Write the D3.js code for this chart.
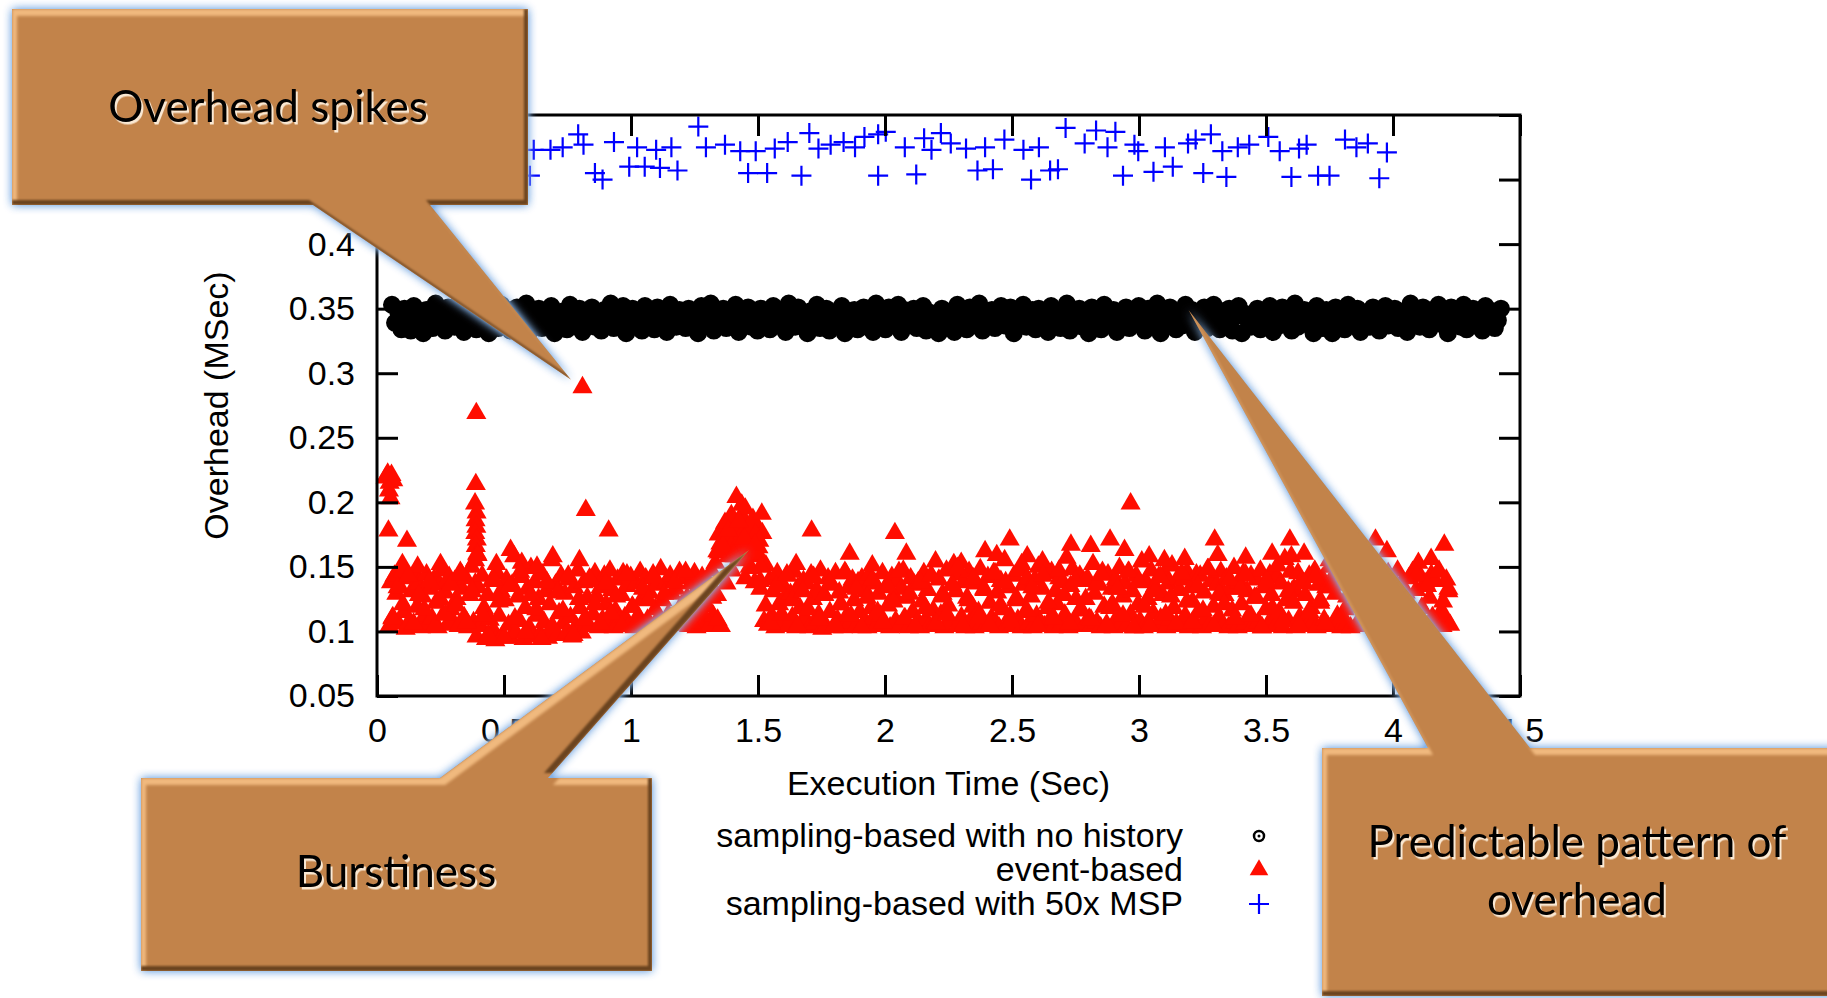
<!DOCTYPE html>
<html><head><meta charset="utf-8">
<script src="https://cdn.jsdelivr.net/npm/d3@7"></script>
<style>html,body{margin:0;padding:0;background:#fff;}svg{display:block;}</style>
</head><body>
<svg id="chart" width="1827" height="998"></svg>
<script>
// ---------------- data ----------------
const seriesNames = ["sampling-based with no history", "event-based", "sampling-based with 50x MSP"];
const xLabel = "Execution Time (Sec)";
const yLabel = "Overhead (MSec)";
const xTicks = [0, 0.5, 1, 1.5, 2, 2.5, 3, 3.5, 4, 4.5];
const xTickLabels = ["0", "0.5", "1", "1.5", "2", "2.5", "3", "3.5", "4", "4.5"];
const yTicks = [0.05, 0.1, 0.15, 0.2, 0.25, 0.3, 0.35, 0.4, 0.45, 0.5];
// the 0.45 and 0.5 labels sit under the "Overhead spikes" callout in the original
const yTickLabels = ["0.05", "0.1", "0.15", "0.2", "0.25", "0.3", "0.35", "0.4", "", ""];
const calloutTexts = [["Overhead spikes"], ["Burstiness"], ["Predictable pattern of", "overhead"]];
// callout tips, in data units (time s, overhead ms)
const calloutTipX = [0.764, 1.465, 3.195];
const calloutTipY = [0.295, 0.163, 0.349];

// sampling-based with no history: sample time (ms), overhead (microseconds)
const noHistoryTimeMs = [
59,71,84,96,108,120,133,145,157,170,182,194,207,219,231,243,
256,268,280,293,305,317,330,342,354,366,379,391,403,416,428,440,453,465,477,489,
502,514,526,539,551,563,576,588,600,612,625,637,649,662,674,686,699,711,723,735,
748,760,772,785,797,809,822,834,846,858,871,883,895,908,920,932,945,957,969,981,
994,1006,1018,1031,1043,1055,1068,1080,1092,1104,1117,1129,1141,1154,1166,1178,1191,1203,1215,1227,
1240,1252,1264,1277,1289,1301,1314,1326,1338,1350,1363,1375,1387,1400,1412,1424,1437,1449,1461,1473,
1486,1498,1510,1523,1535,1547,1560,1572,1584,1596,1609,1621,1633,1646,1658,1670,1683,1695,1707,1719,
1732,1744,1756,1769,1781,1793,1806,1818,1830,1842,1855,1867,1879,1892,1904,1916,1929,1941,1953,1965,
1978,1990,2002,2015,2027,2039,2052,2064,2076,2088,2101,2113,2125,2138,2150,2162,2175,2187,2199,2211,
2224,2236,2248,2261,2273,2285,2298,2310,2322,2334,2347,2359,2371,2384,2396,2408,2421,2433,2445,2457,
2470,2482,2494,2507,2519,2531,2544,2556,2568,2580,2593,2605,2617,2630,2642,2654,2667,2679,2691,2703,
2716,2728,2740,2753,2765,2777,2790,2802,2814,2826,2839,2851,2863,2876,2888,2900,2913,2925,2937,2949,
2962,2974,2986,2999,3011,3023,3036,3048,3060,3072,3085,3097,3109,3122,3134,3146,3159,3171,3183,3195,
3208,3220,3232,3245,3257,3269,3282,3294,3306,3318,3331,3343,3355,3368,3380,3392,3405,3417,3429,3441,
3454,3466,3478,3491,3503,3515,3528,3540,3552,3564,3577,3589,3601,3614,3626,3638,3651,3663,3675,3687,
3700,3712,3724,3737,3749,3761,3774,3786,3798,3810,3823,3835,3847,3860,3872,3884,3897,3909,3921,3933,
3946,3958,3970,3983,3995,4007,4020,4032,4044,4056,4069,4081,4093,4106,4118,4130,4143,4155,4167,4179,
4192,4204,4216,4229,4241,4253,4266,4278,4290,4302,4315,4327,4339,4352,4364,4376,4389,4401,4413,4425];
const noHistoryOverheadUs = [
353,339,347,334,350,341,333,352,337,345,331,349,342,335,354,338,
346,333,351,340,336,353,343,332,348,337,350,334,344,339,352,331,347,341,335,353,
338,349,333,345,351,336,342,354,332,347,340,350,335,343,337,352,331,346,339,348,
334,353,341,337,350,332,345,339,351,336,344,333,349,342,354,335,347,338,352,331,
343,350,336,346,333,352,340,348,334,351,338,345,332,353,341,336,349,344,335,350,
339,347,331,352,342,337,354,333,346,340,350,335,348,338,353,332,344,341,351,336,
345,333,350,339,347,334,352,341,337,349,332,354,343,336,351,338,346,331,348,340,
353,335,344,350,333,341,347,337,352,331,345,339,349,334,342,351,336,348,332,354,
340,346,334,351,338,343,353,332,349,337,345,350,335,341,352,333,347,339,344,331,
350,342,336,348,332,353,339,345,334,351,341,337,354,333,346,340,349,335,343,352,
337,344,351,331,347,340,353,336,342,349,334,350,338,345,332,352,341,348,335,339,
354,333,346,341,350,336,343,331,351,339,347,334,353,342,337,349,332,345,340,351,
335,348,338,352,344,333,350,341,336,354,331,346,339,351,343,334,347,337,353,340,
349,332,345,338,351,335,342,353,340,334,348,337,350,333,344,352,331,346,341,336,
343,350,334,347,339,352,332,345,337,351,341,348,333,354,336,342,349,338,346,331,
352,340,335,349,343,331,351,338,346,334,353,341,337,350,332,347,344,336,351,339,
333,346,352,337,344,350,335,341,348,332,354,339,345,336,351,342,334,349,340,353,
338,345,331,351,342,347,336,353,334,340,350,337,346,333,352,343,348,335,341,350];

// event-based: event time (ms), overhead (microseconds)
const eventTimeMs = [
48,55,62,69,76,84,91,99,106,113, 121,128,136,143,150,158,165,173,180,187,
195,202,210,217,224,232,239,247,254,261, 269,276,284,291,298,306,313,321,328,335,
343,350,358,365,372,380,387,
392,399,407,414,421,429,436,444,451,458, 466,473,481,488,495,503,510,518,525,532,
540,547,555,562,569,577,584,592,599,606, 614,621,629,636,643,651,658,666,673,680,
688,695,703,710,717,725,732,740,747,754, 762,769,777,784,791,799,806,814,821,828,
836,843,851,858,865,873,880,888,895,902, 910,917,925,932,939,947,954,962,969,976,
984,991,999,1006,1013,1021,1028,1036,1043,1050, 1058,1065,1073,1080,1087,1095,1102,1110,1117,1124,
1132,1139,1147,1154,1161,1169,1176,1184,1191,1198, 1206,1213,1221,1228,1235,1243,1250,1258,1265,1272,
1280,1287,1295,1302,1309,1317,1324,1332,1339,1346,
1354,1361,1369,1376,1383,1391,1398,1406,1413,1420, 1428,1435,1443,1450,1457,1465,1472,1480,1487,1494,
1502,1509,1517,1524,1531,
1539,1546,1554,1561,1568,1576,1583,1591,1598,1605, 1613,1620,1628,1635,1642,1650,1657,1665,1672,1679,
1687,1694,1702,1709,1716,1724,1731,1739,1746,1753, 1761,1768,1776,1783,1790,1798,1805,1813,1820,1827,
1835,1842,1850,1857,1864,1872,1879,1887,1894,1901, 1909,1916,1924,1931,1938,1946,1953,1961,1968,1975,
1983,1990,1998,2005,2012,2020,2027,2035,2042,2049, 2057,2064,2072,2079,2086,2094,2101,2109,2116,2123,
2131,2138,2146,2153,2160,2168,2175,2183,2190,2197, 2205,2212,2220,2227,2234,2242,2249,2257,2264,2271,
2279,2286,2294,2301,2308,2316,2323,2331,2338,2345, 2353,2360,2368,2375,2382,2390,2397,2405,2412,2419,
2427,2434,2442,2449,2456,2464,2471,2479,2486,2493, 2501,2508,2516,2523,2530,2538,2545,2553,2560,2567,
2575,2582,2590,2597,2604,2612,2619,2627,2634,2641, 2649,2656,2664,2671,2678,2686,2693,2701,2708,2715,
2723,2730,2738,2745,2752,2760,2767,2775,2782,2789, 2797,2804,2812,2819,2826,2834,2841,2849,2856,2863,
2871,2878,2886,2893,2900,2908,2915,2923,2930,2937, 2945,2952,2960,2967,2974,2982,2989,2997,3004,3011,
3019,3026,3034,3041,3048,3056,3063,3071,3078,3085, 3093,3100,3108,3115,3122,3130,3137,3145,3152,3159,
3167,3174,3182,3189,3196,3204,3211,3219,3226,3233, 3241,3248,3256,3263,3270,3278,3285,3293,3300,3307,
3315,3322,3330,3337,3344,3352,3359,3367,3374,3381, 3389,3396,3404,3411,3418,3426,3433,3441,3448,3455,
3463,3470,3478,3485,3492,3500,3507,3515,3522,3529, 3537,3544,3552,3559,3566,3574,3581,3589,3596,3603,
3611,3618,3626,3633,3640,3648,3655,3663,3670,3677, 3685,3692,3700,3707,3714,3722,3729,3737,3744,3751,
3759,3766,3774,3781,3788,3796,3803,3811,3818,3825, 3833,3840,3848,3855,3862,3870,3877,3885,3892,3899,
3907,3914,3922,3929,3936,3944,3951,3959,3966,3973, 3981,3988,3996,4003,4010,4018,4025,4033,4040,4047,
4055,4062,4070,4077,4084,4092,4099,4107,4114,4121, 4129,4136,4144,4151,4158,4166,4173,4181,4188,4195,
4203,4210,4218,4225,
34,42,50,57,64,47,53,45,118,100,160,250,
389,386,392,388,391,387,393,389,394,386,391,
809,822,912,526,570,692,797,630,470,
1340,1345,1352,1370,1378,1395,1400,1408,1415,1420,1428,1436,1440,1447,1450,1460,1468,1470,1480,1490,1500,1505,1515,1510,
1650,1711,1861,1950,2039,2084,2199,2300,2394,2440,2491,2560,2620,2732,2810,2886,2943,2967,3040,3100,3180,3298,3310,3420,3524,3594,3600,3650,3750,3860,3931,3976,4100,4150,4202,
60,81,102,123,144,165,186,207,228,249, 270,291,312,333,354,375,396,417,438,459,
480,501,522,543,564,585,606,627,648,669, 690,711,732,753,774,795,816,837,858,879,
900,921,942,963,984,1005,1026,1047,1068,1089, 1110,1131,1152,1173,1194,1215,1236,1257,1278,1299,
1320,1341,1362,1383,1404,1425,1446,1467,1488,1509, 1530,1551,1572,1593,1614,1635,1656,1677,1698,1719,
1740,1761,1782,1803,1824,1845,1866,1887,1908,1929, 1950,1971,1992,2013,2034,2055,2076,2097,2118,2139,
2160,2181,2202,2223,2244,2265,2286,2307,2328,2349, 2370,2391,2412,2433,2454,2475,2496,2517,2538,2559,
2580,2601,2622,2643,2664,2685,2706,2727,2748,2769, 2790,2811,2832,2853,2874,2895,2916,2937,2958,2979,
3000,3021,3042,3063,3084,3105,3126,3147,3168,3189, 3210,3231,3252,3273,3294,3315,3336,3357,3378,3399,
3420,3441,3462,3483,3504,3525,3546,3567,3588,3609, 3630,3651,3672,3693,3714,3735,3756,3777,3798,3819,
3840,3861,3882,3903,3924,3945,3966,3987,4008,4029, 4050,4071,4092,4113,4134,4155,4176,4197,4218];
const eventOverheadUs = [
104,138,111,143,129,106,134,146,115,102, 141,108,131,104,145,119,137,103,127,112,
144,106,133,110,140,122,103,136,147,113, 130,105,142,117,108,139,125,104,146,133,
111,141,103,128,150,107,137,
96,134,104,143,118,94,128,109,139,101, 93,145,112,131,97,124,140,105,95,136,
158,99,127,108,142,94,118,133,103,149, 96,138,112,125,98,144,107,131,95,121,
155,101,136,97,114,143,106,129,99,140, 111,96,134,104,147,118,99,138,108,126,
104,139,113,145,127,103,134,109,143,121, 106,147,132,103,116,140,108,128,145,111,
135,104,142,119,103,137,112,146,125,105, 141,109,130,103,144,117,136,106,148,124,
103,138,113,143,129,105,133,110,146,120, 107,141,126,104,137,115,145,103,131,110,
142,106,135,119,104,147,112,153,128,161,
104,168,176,137,158,183,147,172,163,179, 155,186,169,141,177,160,149,171,138,182,
165,133,176,108,151,
105,140,112,131,103,145,121,108,136,126, 143,104,129,111,146,103,134,118,107,139,
110,137,103,144,125,106,132,113,147,102, 128,104,141,115,136,103,145,109,130,121,
103,146,112,134,107,140,124,104,138,115, 141,106,131,103,144,118,110,137,105,129,
112,145,104,135,120,103,142,128,108,139, 104,133,147,110,126,103,141,115,136,106,
138,103,123,145,109,132,104,143,116,107, 105,140,113,129,103,147,120,108,136,152,
131,104,144,111,138,103,126,146,109,119, 103,137,115,148,106,133,104,142,122,110,
145,107,130,103,139,117,155,105,134,112, 104,143,124,109,147,103,136,115,141,106,
127,103,140,112,150,106,133,104,145,118, 109,146,103,131,121,141,105,138,113,157,
103,135,148,108,125,104,143,116,139,106, 141,110,104,152,129,107,137,103,146,119,
105,144,118,133,103,140,111,149,106,127, 137,104,146,113,131,103,143,121,108,154,
103,139,125,106,147,114,135,104,142,110, 128,145,103,137,109,151,118,104,141,132,
106,140,112,146,103,134,123,107,144,115, 143,103,130,110,148,105,139,119,104,136,
111,146,104,128,141,103,133,116,149,107, 103,138,121,145,106,131,112,143,104,126,
140,107,147,103,134,117,105,144,128,110, 104,142,115,137,103,156,124,108,146,131,
133,103,145,111,139,106,128,104,143,118, 107,147,103,136,122,141,109,134,104,150,
139,104,129,112,145,103,136,117,106,142, 103,144,119,133,107,148,104,127,139,112,
131,105,146,103,138,114,142,108,125,104, 145,110,103,134,121,147,106,137,103,129,
104,141,113,146,108,132,103,143,118,136, 137,103,126,144,110,139,105,147,115,104,
112,140,131,105,
219,222,215,221,217,209,203,178,170,152,150,152,
214,199,192,186,181,176,171,166,160,155,269,
289,194,178,163,153,158,155,150,152,
162,175,168,184,172,190,168,158,204,180,170,198,176,186,195,165,180,158,187,175,160,170,191,150,
152,178,160,151,176,160,154,153,162,159,171,158,154,167,166,171,163,199,158,155,156,171,159,157,160,171,158,160,155,157,171,162,153,156,167,
110,134,121,143,106,128,117,139,104,125, 113,136,120,144,107,131,159,112,97,140,
123,95,135,110,146,99,128,117,94,138, 104,130,116,143,97,125,109,141,121,106,
137,114,127,104,144,119,108,133,124,142, 111,129,105,138,118,146,107,132,115,140,
126,109,166,178,159,185,172,150,167,139, 120,106,135,113,144,124,104,131,117,142,
109,128,137,105,121,145,112,133,103,126, 140,115,107,134,123,146,110,129,104,138,
118,143,106,127,113,136,149,104,124,141, 111,132,105,145,120,138,108,126,152,116,
134,104,143,122,110,147,128,106,139,117, 125,109,136,144,105,121,133,112,146,103,
138,119,104,131,142,113,127,106,145,123, 107,135,116,148,104,129,121,140,110,133,
144,112,126,103,139,118,151,108,131,122, 105,137,115,142,124,106,134,147,111,127,
120,145,108,132,104,141,116,128,138,109, 130,106,143,118,135,111,146,123,133];

// sampling-based with 50x MSP: time (ms), overhead (microseconds)
const mspTimeMs = [
50,90,140,190,230,280,330,370,410,460,
500,550,602,617,683,731,792,813,858,888,
933,993,1024,1054,1099,1114,1159,1183,1265,1295,
1370,1430,1461,1491,1536,1566,1617,1671,1702,1738,
1786,1837,1882,1919,1973,1973,2003,2078,2123,2154,
2183,2220,2259,2319,2364,2394,2425,2470,2545,2575,
2606,2650,2681,2711,2786,2831,2876,2907,2937,2982,
2997,3057,3102,3133,3193,3223,3253,3283,3328,3344,
3389,3434,3509,3554,3600,3630,3660,3705,3750,3811,
3856,3901,3946,3976];
const mspOverheadUs = [
476,483,455,479,472,487,474,453,478,481,
470,476,453,473,473,475,485,477,455,450,
479,460,475,460,473,459,475,457,491,475,
477,472,455,472,455,474,479,453,486,474,
477,479,475,483,485,453,487,475,454,482,
473,486,478,474,457,475,458,481,473,450,
475,457,458,490,478,488,475,487,453,477,
472,456,475,460,478,481,455,485,472,452,
475,477,483,472,452,474,477,453,453,481,
475,478,451,471];

// ---------------- layout ----------------
const W = 1827, H = 998;
const plot = {left: 377, right: 1520, top: 115, bottom: 696};
const axisFont = "'Liberation Sans', Arial, Helvetica, sans-serif";
const noteFont = "Lato, 'Open Sans', sans-serif";

const x = d3.scaleLinear().domain([0, 4.5]).range([plot.left, plot.right]);
const y = d3.scaleLinear().domain([0.05, 0.5]).range([plot.bottom, plot.top]);

const svg = d3.select("#chart");
svg.append("rect").attr("width", W).attr("height", H).attr("fill", "#fff");

const defs = svg.append("defs");
defs.html(`
<filter id="calloutFx" filterUnits="userSpaceOnUse" x="-80" y="-80" width="2000" height="1160" color-interpolation-filters="sRGB">
  <feGaussianBlur in="SourceAlpha" stdDeviation="5" result="gb"/>
  <feFlood flood-color="#86B2E6" result="gc"/>
  <feComposite in="gc" in2="gb" operator="in" result="glow0"/>
  <feComponentTransfer in="glow0" result="glow"><feFuncA type="linear" slope="1.5"/></feComponentTransfer>
  <feOffset in="SourceAlpha" dx="5" dy="7" result="o1"/>
  <feComposite in="SourceAlpha" in2="o1" operator="out" result="hm0"/>
  <feGaussianBlur in="hm0" stdDeviation="1.6" result="hm1"/>
  <feComposite in="hm1" in2="SourceAlpha" operator="in" result="hm"/>
  <feFlood flood-color="#F0B97E" result="hc"/>
  <feComposite in="hc" in2="hm" operator="in" result="hi"/>
  <feOffset in="SourceAlpha" dx="-4" dy="-5" result="o2"/>
  <feComposite in="SourceAlpha" in2="o2" operator="out" result="sm0"/>
  <feGaussianBlur in="sm0" stdDeviation="1.2" result="sm1"/>
  <feComposite in="sm1" in2="SourceAlpha" operator="in" result="sm"/>
  <feFlood flood-color="#6A431F" result="sc"/>
  <feComposite in="sc" in2="sm" operator="in" result="sh"/>
  <feMerge><feMergeNode in="glow"/><feMergeNode in="SourceGraphic"/><feMergeNode in="hi"/><feMergeNode in="sh"/></feMerge>
</filter>
<filter id="textShadow" x="-10%" y="-30%" width="120%" height="160%" color-interpolation-filters="sRGB">
  <feDropShadow dx="2" dy="2.5" stdDeviation="0.7" flood-color="#FFF3E2" flood-opacity="0.9"/>
</filter>`);

// ---------------- series ----------------
const noHist = noHistoryTimeMs.map((t, i) => ({t: t / 1000, v: noHistoryOverheadUs[i] / 1000}));
const events = eventTimeMs.map((t, i) => ({t: t / 1000, v: eventOverheadUs[i] / 1000}));
const msp = mspTimeMs.map((t, i) => ({t: t / 1000, v: mspOverheadUs[i] / 1000}));

const gData = svg.append("g");
const gNH = gData.append("g");
// densely overlapping ring-with-dot markers merge into a solid band
gNH.selectAll("circle.ring").data(noHist).join("circle").attr("class", "ring")
  .attr("cx", d => x(d.t)).attr("cy", d => y(d.v)).attr("r", 5)
  .attr("fill", "none").attr("stroke", "#000").attr("stroke-width", 8);
gNH.selectAll("circle.dot").data(noHist).join("circle").attr("class", "dot")
  .attr("cx", d => x(d.t)).attr("cy", d => y(d.v)).attr("r", 2).attr("fill", "#000");

const tri = d3.symbol(d3.symbolTriangle, 175);
gData.append("g").selectAll("path").data(events).join("path")
  .attr("d", tri).attr("transform", d => `translate(${x(d.t)},${y(d.v)})`).attr("fill", "#ff0d00");

const plusType = {draw(ctx, size) { const r = Math.sqrt(size) / 2; ctx.moveTo(-r, 0); ctx.lineTo(r, 0); ctx.moveTo(0, -r); ctx.lineTo(0, r); }};
const plus = d3.symbol(plusType, 400);
gData.append("g").selectAll("path").data(msp).join("path")
  .attr("d", plus).attr("transform", d => `translate(${x(d.t)},${y(d.v)})`)
  .attr("fill", "none").attr("stroke", "#0000ff").attr("stroke-width", 2.2);

// ---------------- axes & frame ----------------
function styleAxis(g, labels) {
  g.select(".domain").remove();
  g.selectAll(".tick line").attr("stroke", "#000").attr("stroke-width", 3);
  g.selectAll(".tick text").attr("font-family", axisFont).attr("font-size", 34).attr("fill", "#000");
  if (!labels) g.selectAll(".tick text").remove();
  else g.selectAll(".tick text").filter(function() { return this.textContent === ""; }).remove();
}
svg.append("g").attr("transform", `translate(0,${plot.bottom})`)
  .call(d3.axisBottom(x).tickValues(xTicks).tickSizeInner(-21).tickSizeOuter(0).tickPadding(22).tickFormat((d, i) => xTickLabels[i]))
  .call(g => styleAxis(g, true));
svg.append("g").attr("transform", `translate(0,${plot.top})`)
  .call(d3.axisTop(x).tickValues(xTicks).tickSizeInner(-21).tickSizeOuter(0))
  .call(g => styleAxis(g, false));
svg.append("g").attr("transform", `translate(${plot.left},0)`)
  .call(d3.axisLeft(y).tickValues(yTicks).tickSizeInner(-21).tickSizeOuter(0).tickPadding(22).tickFormat((d, i) => yTickLabels[i]))
  .call(g => styleAxis(g, true));
svg.append("g").attr("transform", `translate(${plot.right},0)`)
  .call(d3.axisRight(y).tickValues(yTicks).tickSizeInner(-21).tickSizeOuter(0))
  .call(g => styleAxis(g, false));
svg.append("rect").attr("x", plot.left).attr("y", plot.top)
  .attr("width", plot.right - plot.left).attr("height", plot.bottom - plot.top)
  .attr("fill", "none").attr("stroke", "#000").attr("stroke-width", 3);

svg.append("text").attr("x", (plot.left + plot.right) / 2).attr("y", 795)
  .attr("text-anchor", "middle").attr("font-family", axisFont).attr("font-size", 34).text(xLabel);
svg.append("text").attr("transform", `translate(228,${(plot.top + plot.bottom) / 2}) rotate(-90)`)
  .attr("text-anchor", "middle").attr("font-family", axisFont).attr("font-size", 34).text(yLabel);

// ---------------- legend ----------------
const legendRowsY = [836, 870, 904];
const lg = svg.append("g");
const lt = lg.append("text").attr("x", 1183).attr("y", legendRowsY[0] + 11).attr("text-anchor", "end")
  .attr("font-family", axisFont).attr("font-size", 34);
seriesNames.forEach((name, i) => {
  lt.append("tspan").attr("x", 1183).attr("y", legendRowsY[i] + 11).text(name);
});
lg.append("circle").attr("cx", 1259).attr("cy", legendRowsY[0]).attr("r", 5).attr("fill", "none").attr("stroke", "#000").attr("stroke-width", 2.5);
lg.append("circle").attr("cx", 1259).attr("cy", legendRowsY[0]).attr("r", 1.5).attr("fill", "#000");
lg.append("path").attr("d", d3.symbol(d3.symbolTriangle, 150)).attr("transform", `translate(1259,${legendRowsY[1]})`).attr("fill", "#ff0d00");
lg.append("path").attr("d", plus).attr("transform", `translate(1259,${legendRowsY[2]})`).attr("fill", "none").attr("stroke", "#0000ff").attr("stroke-width", 2.2);

// ---------------- callouts ----------------
const callouts = [
  {box: [12, 9, 528, 205], side: "bottom", base: [313, 430], text: [268, 122]},
  {box: [141, 778, 652, 971], side: "top", base: [440, 548], text: [396, 887]},
  {box: [1322, 748, 1850, 996], side: "top", base: [1428, 1530], text: [1577, 857]}
];
const gC = svg.append("g");
callouts.forEach((c, i) => {
  const [x0, y0, x1, y1] = c.box;
  const tx = x(calloutTipX[i]), ty = y(calloutTipY[i]);
  const p = d3.path();
  if (c.side === "bottom") {
    p.moveTo(x0, y0); p.lineTo(x1, y0); p.lineTo(x1, y1); p.lineTo(c.base[1], y1);
    p.lineTo(tx, ty); p.lineTo(c.base[0], y1); p.lineTo(x0, y1); p.closePath();
  } else {
    p.moveTo(x0, y0); p.lineTo(c.base[0], y0); p.lineTo(tx, ty); p.lineTo(c.base[1], y0);
    p.lineTo(x1, y0); p.lineTo(x1, y1); p.lineTo(x0, y1); p.closePath();
  }
  gC.append("path").attr("d", p.toString()).attr("fill", "#C2834A").attr("filter", "url(#calloutFx)");
  const t = gC.append("text").attr("x", c.text[0]).attr("y", c.text[1]).attr("text-anchor", "middle")
    .attr("font-family", noteFont).attr("font-size", 44).attr("fill", "#000").attr("filter", "url(#textShadow)");
  calloutTexts[i].forEach((line, j) => {
    t.append("tspan").attr("x", c.text[0]).attr("dy", j === 0 ? 0 : 58).text(line);
  });
});
</script>
</body></html>
